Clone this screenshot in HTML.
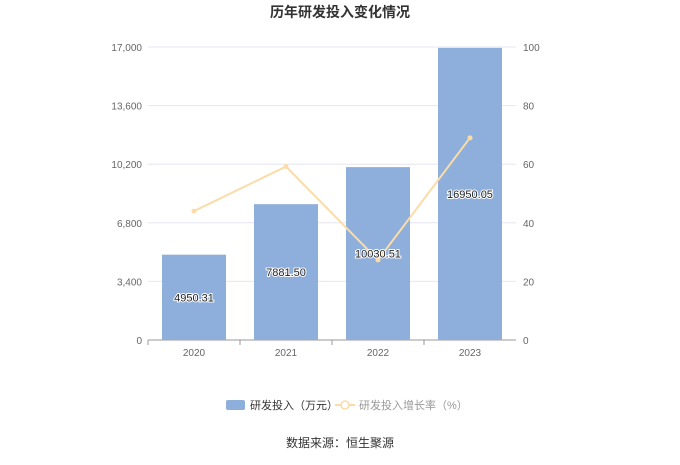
<!DOCTYPE html>
<html><head><meta charset="utf-8"><style>
body{margin:0;background:#fff;width:680px;height:460px;overflow:hidden}
text{font-family:"Liberation Sans","Noto Sans CJK SC",sans-serif}
</style></head><body>
<svg id="c" width="680" height="460">
<text x="340" y="17" text-anchor="middle" font-size="14" font-weight="bold" fill="#333">历年研发投入变化情况</text>
<g id="grid"></g><g id="bars"></g><g id="line"></g><g id="labels"></g>
<g>
<rect x="226" y="400" width="19" height="10" rx="2" fill="#8eaedb"/>
<text x="250" y="409" font-size="11" fill="#333">研发投入（万元）</text>
<line x1="335" y1="405" x2="355" y2="405" stroke="#fbdca8" stroke-width="2"/>
<circle cx="345" cy="405" r="4" fill="#fff" stroke="#fbdca8" stroke-width="1.5"/>
<text x="359" y="409" font-size="11" fill="#999">研发投入增长率（%）</text>
</g>
<text x="340" y="447" text-anchor="middle" font-size="12" fill="#333">数据来源：恒生聚源</text>
</svg>
<script>
const categories=["2020","2021","2022","2023"];
const investment=[4950.31,7881.50,10030.51,16950.05];
const growth=[44,59.2,27.3,69];
const leftTicks=[0,3400,6800,10200,13600,17000];
const leftTickLabels=["0","3,400","6,800","10,200","13,600","17,000"];
const rightTicks=[0,20,40,60,80,100];
const NS="http://www.w3.org/2000/svg";
const x0=148,x1=516,yB=340,yT=47;
const yL=v=>yB-(v/17000)*(yB-yT);
const yR=v=>yB-(v/100)*(yB-yT);
const bw=(x1-x0)/categories.length;
const xc=i=>x0+bw*(i+0.5);
function mk(tag,attrs,parent,txt){const e=document.createElementNS(NS,tag);for(const k in attrs)e.setAttribute(k,attrs[k]);if(txt!==undefined)e.textContent=txt;document.getElementById(parent).appendChild(e);return e;}
leftTicks.forEach((t,i)=>{
 const g=mk('line',{x1:x0,x2:x1,y1:yL(t),y2:yL(t),stroke:i?'#e6e6f0':'#999','stroke-width':1},'grid');
 
 
 const l=mk('text',{x:x0-6,y:yL(t)+4,'text-anchor':'end','font-size':10,fill:'#666'},'grid',leftTickLabels[i]);
 
 
});
rightTicks.forEach(t=>{
 const l=mk('text',{x:x1+7,y:yR(t)+4,'font-size':10,fill:'#666'},'grid',String(t));
 
 
});
categories.forEach((c,i)=>{
 const tk=mk('line',{x1:x0+bw*i,x2:x0+bw*i,y1:yB,y2:yB+5,stroke:'#999'},'grid');
 
 
 const l=mk('text',{x:xc(i),y:yB+16,'text-anchor':'middle','font-size':10,fill:'#666'},'grid',c);
 
 
 const b=mk('rect',{x:xc(i)-32,y:yL(investment[i]),width:64,height:yB-yL(investment[i]),fill:'#8eaedb'},'bars');
 
 
 const v=mk('text',{x:xc(i),y:(yL(investment[i])+yB)/2+4,'text-anchor':'middle','font-size':11,fill:'#222',stroke:'#fff','stroke-width':2,'paint-order':'stroke'},'labels',investment[i].toFixed(2));
 
 
});
const p=mk('polyline',{points:growth.map((g,i)=>xc(i)+','+yR(g)).join(' '),fill:'none',stroke:'#fbdca8','stroke-width':2},'line');


growth.forEach((g,i)=>{
 const d=mk('circle',{cx:xc(i),cy:yR(g),r:2.5,fill:'#fbdca8'},'line');
 
 
});
</script>
</body></html>
